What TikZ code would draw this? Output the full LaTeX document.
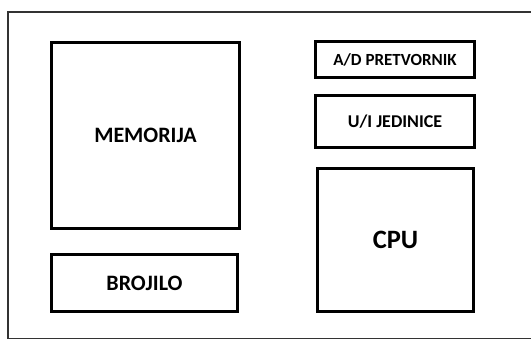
\documentclass[tikz,border=0pt]{standalone}
\usepackage{fontspec}
\setmainfont{Carlito}
\begin{document}
\begin{tikzpicture}[x=1pt,y=-1pt,
  blk/.style={draw=black,line width=3pt,inner sep=0pt,font=\bfseries,align=center},
  frame/.style={draw=black!80,line width=1.5pt}]
\useasboundingbox (0,0) rectangle (531,340);
\coordinate (ftr) at (545,12);
\coordinate (ftl) at (8,12);
\coordinate (fbl) at (8,338.5);
\coordinate (fbr) at (545,338.5);
\draw[frame] (ftr) -- (ftl) -- (fbl) -- (fbr);
\node[blk,minimum width=188pt,minimum height=186pt,font=\bfseries\fontsize{22}{25}\selectfont] (mem) at (145.5,135) {MEMORIJA};
\node[blk,minimum width=186pt,minimum height=57pt,font=\bfseries\fontsize{22}{25}\selectfont] (broj) at (144.5,283) {BROJILO};
\node[blk,minimum width=159pt,minimum height=36pt,font=\bfseries\fontsize{17}{20}\selectfont] (ad) at (395,59.5) {A/D PRETVORNIK};
\node[blk,minimum width=159pt,minimum height=52pt,font=\bfseries\fontsize{18}{21}\selectfont] (ui) at (395,121.5) {U/I JEDINICE};
\node[blk,minimum width=156pt,minimum height=143pt,font=\bfseries\fontsize{26.5}{30}\selectfont] (cpu) at (395.5,240) {CPU};
\end{tikzpicture}
\end{document}
